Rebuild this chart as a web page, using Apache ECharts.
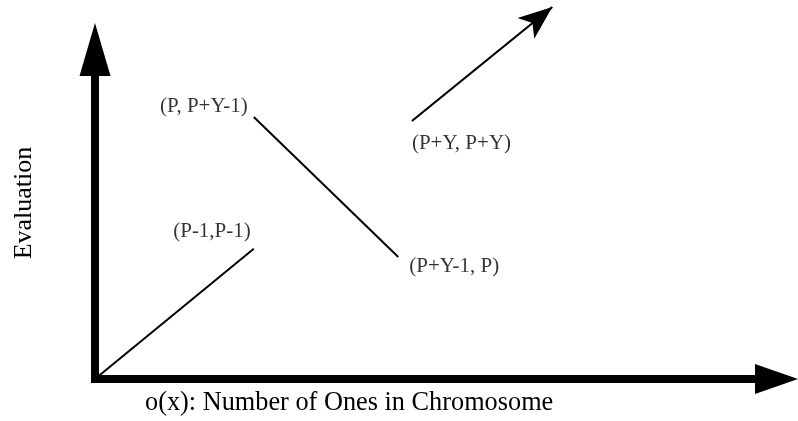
<!DOCTYPE html>
<html>
<head>
<meta charset="utf-8">
<script src="https://cdn.jsdelivr.net/npm/echarts@6/dist/echarts.min.js"></script>
<style>
  html, body { margin: 0; padding: 0; background: #fff; }
  #chart { width: 798px; height: 421px; }
</style>
</head>
<body>
<div id="chart"></div>
<script>
// Schematic units: both axes run 0..100.
const xTitle = 'o(x): Number of Ones in Chromosome';
const yTitle = 'Evaluation';

// Line segments (start -> end); the last one keeps rising past the axis top.
const segStartX = [0, 23.3, 46.5];
const segStartY = [0, 79.5, 78.3];
const segEndX = [23.3, 44.5, 67.1];
const segEndY = [39.5, 37.0, 112.9];

// Labelled points
const pointLabels = ['(P-1,P-1)', '(P, P+Y-1)', '(P+Y-1, P)', '(P+Y, P+Y)'];
const pointX = [23.3, 23.3, 44.5, 46.5];
const pointY = [39.5, 79.5, 37.0, 78.3];

const SERIF = '"Liberation Serif", "Times New Roman", serif';

// where each point label sits relative to its point
const labelPlace = [
  { align: 'right', offset: [-3, -17] },
  { align: 'right', offset: [-6, -11] },
  { align: 'left', offset: [11, 9] },
  { align: 'left', offset: [0, 22] },
];

const axisCommon = {
  type: 'value',
  min: 0,
  max: 100,
  axisTick: { show: false },
  axisLabel: { show: false },
  splitLine: { show: false },
};

const segLine = (i) => ({
  type: 'line',
  data: [[segStartX[i], segStartY[i]], [segEndX[i], segEndY[i]]],
  showSymbol: false,
  symbol: 'none',
  lineStyle: { color: '#000', width: 2 },
  z: 3,
});

const chart = echarts.init(document.getElementById('chart'), null, { renderer: 'canvas' });
chart.setOption({
  animation: false,
  backgroundColor: '#fff',
  grid: { left: 95, right: 21.5, top: 49.5, bottom: 42, outerBoundsMode: 'none' },
  xAxis: Object.assign({}, axisCommon, {
    axisLine: {
      show: true,
      symbol: ['none', 'triangle'],
      symbolSize: [30, 43],
      lineStyle: { color: '#000', width: 8, cap: 'square' },
    },
  }),
  yAxis: Object.assign({}, axisCommon, {
    axisLine: {
      show: true,
      symbol: ['none', 'triangle'],
      symbolSize: [31, 53],
      lineStyle: { color: '#000', width: 8, cap: 'square' },
    },
  }),
  graphic: [
    {
      type: 'text', x: 145, y: 403,
      style: { text: xTitle, fontFamily: SERIF, fontSize: 26.3, fill: '#000', align: 'left', verticalAlign: 'middle' },
    },
    {
      type: 'text', x: 24, y: 203, rotation: Math.PI / 2,
      style: { text: yTitle, fontFamily: SERIF, fontSize: 26, fill: '#000', align: 'center', verticalAlign: 'middle' },
    },
  ],
  series: [
    segLine(0),
    segLine(1),
    {
      type: 'lines',
      coordinateSystem: 'cartesian2d',
      clip: false,
      symbol: ['none', 'arrow'],
      symbolSize: [1, [20, 34]],
      lineStyle: { color: '#000', width: 2.2, opacity: 1, curveness: 0 },
      data: [{ coords: [[segStartX[2], segStartY[2]], [segEndX[2], segEndY[2]]] }],
      z: 3,
    },
    {
      type: 'scatter',
      symbolSize: 0,
      itemStyle: { color: 'transparent' },
      silent: true,
      data: pointLabels.map((t, i) => ({
        value: [pointX[i], pointY[i]],
        label: {
          show: true,
          position: 'inside',
          formatter: t,
          align: labelPlace[i].align,
          verticalAlign: 'middle',
          offset: labelPlace[i].offset,
          fontFamily: SERIF,
          fontSize: 21,
          color: '#000',
          textBorderWidth: 0,
        },
      })),
      z: 4,
    },
  ],
});
</script>
</body>
</html>
